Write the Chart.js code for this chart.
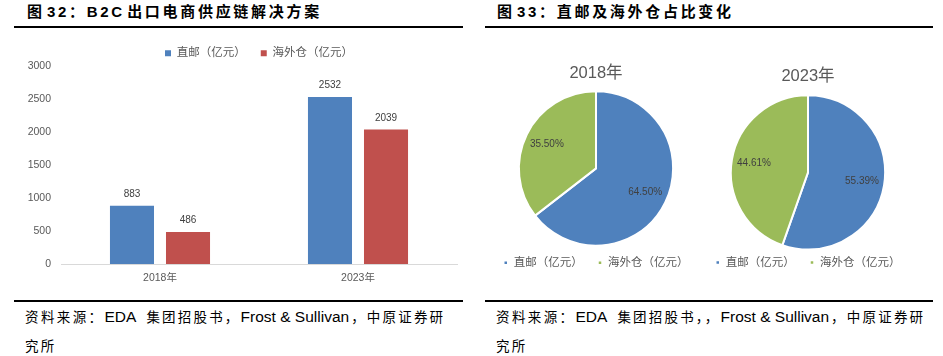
<!DOCTYPE html>
<html><head><meta charset="utf-8">
<script src="https://cdn.jsdelivr.net/npm/chart.js@4.4.0/dist/chart.umd.min.js"></script>
<style>
html,body{margin:0;padding:0;background:#fff;width:943px;height:356px;overflow:hidden;}
body{position:relative;font-family:"Liberation Sans","Noto Sans CJK SC",sans-serif;}
.title{position:absolute;top:3px;font-family:"Liberation Sans","Noto Sans CJK SC",sans-serif;font-weight:bold;font-size:15px;color:#000;white-space:nowrap;letter-spacing:2.7px;word-spacing:-4.6px;line-height:18px;}
.rule{position:absolute;height:2px;background:#000;}
.src{position:absolute;top:302px;font-size:15.5px;line-height:28px;color:#000;white-space:nowrap;}
.cjk{font-family:"Noto Sans CJK SC",sans-serif;font-size:13.5px;letter-spacing:2.2px;}
canvas{position:absolute;}
</style></head>
<body>
<div class="title" style="left:27px;">图 32：B2C 出口电商供应链解决方案</div>
<div class="title" style="left:497px;">图 33：直邮及海外仓占比变化</div>
<div class="rule" style="left:14px;width:449px;top:26px;"></div>
<div class="rule" style="left:485px;width:448px;top:26px;"></div>
<div class="rule" style="left:14px;width:449px;top:300px;"></div>
<div class="rule" style="left:485px;width:448px;top:300px;"></div>
<div class="src" style="left:25px;"><span class="cjk" style="letter-spacing:2.4px;">资料来源：</span>EDA<span class="cjk" style="margin-left:10px;">集团招股书，</span>Frost &amp; Sullivan<span class="cjk" style="margin-left:2px;">，中原证券研</span><br><span class="cjk">究所</span></div>
<div class="src" style="left:496px;"><span class="cjk" style="letter-spacing:2.4px;">资料来源：</span>EDA<span class="cjk" style="margin-left:10px;">集团招股书，，</span>Frost &amp; Sullivan<span class="cjk" style="margin-left:2px;">，中原证券研</span><br><span class="cjk">究所</span></div>

<canvas id="bar" width="470" height="254" style="left:0;top:38px;"></canvas>
<canvas id="pie1" width="232" height="228" style="left:480px;top:55px;"></canvas>
<canvas id="pie2" width="232" height="232" style="left:692px;top:55px;"></canvas>

<script>
// ---- data ----
const categories = ['2018年', '2023年'];
const seriesNames = ['直邮（亿元）', '海外仓（亿元）'];
const directMail = [883, 2532];
const overseasWarehouse = [486, 2039];
const yMin = 0, yMax = 3000, yStep = 500;
const pieTitles = ['2018年', '2023年'];
const share2018 = [64.50, 35.50];
const share2023 = [55.39, 44.61];

// ---- styles ----
const BLUE = '#4F81BD', RED = '#C0504D', GREEN = '#9BBB59';
const FONT = '"Liberation Sans", "Noto Sans CJK SC", sans-serif';
Chart.defaults.font.family = FONT;
Chart.defaults.color = '#595959';

const barValueLabels = {
  id: 'barValueLabels',
  afterDatasetsDraw(chart) {
    const ctx = chart.ctx;
    ctx.save();
    ctx.font = '10px ' + FONT;
    ctx.fillStyle = '#404040';
    ctx.textAlign = 'center';
    ctx.textBaseline = 'middle';
    chart.data.datasets.forEach((ds, i) => {
      chart.getDatasetMeta(i).data.forEach((bar, j) => {
        ctx.fillText(String(ds.data[j]), bar.x, bar.y - 11.5);
      });
    });
    ctx.restore();
  }
};

// nudges the legend box vertically after layout (chart area unchanged)
function legendShift(dy) {
  return {
    id: 'legendShift',
    afterLayout(chart) {
      const lg = chart.legend;
      if (lg) { lg.top += dy; lg.bottom += dy; }
    }
  };
}

new Chart(document.getElementById('bar'), {
  type: 'bar',
  data: {
    labels: categories,
    datasets: [
      { label: seriesNames[0], data: directMail, backgroundColor: BLUE },
      { label: seriesNames[1], data: overseasWarehouse, backgroundColor: RED }
    ]
  },
  options: {
    responsive: false,
    animation: false,
    events: [],
    layout: { padding: { left: 0, right: 13, top: -8.5, bottom: 0 } },
    datasets: { bar: { categoryPercentage: 0.566, barPercentage: 0.786 } },
    scales: {
      x: {
        grid: { display: false, drawTicks: false },
        border: { display: true, color: '#D9D9D9', width: 1 },
        ticks: { color: '#595959', font: { size: 10.5 }, padding: 8 },
        afterFit(s) { s.height = 28; }
      },
      y: {
        min: yMin, max: yMax,
        grid: { display: false, drawTicks: false },
        border: { display: false },
        ticks: { stepSize: yStep, color: '#595959', font: { size: 10.5 }, padding: 10, callback: (v) => String(v) },
        afterFit(s) { s.width = 61; }
      }
    },
    plugins: {
      legend: {
        position: 'top',
        fullSize: false,
        labels: { boxWidth: 6, boxHeight: 6, font: { size: 11.5 }, color: '#595959', padding: 15 }
      },
      tooltip: { enabled: false }
    }
  },
  plugins: [barValueLabels, legendShift(3)]
});

function sliceLabels(shares) {
  return {
    id: 'sliceLabels',
    afterDatasetsDraw(chart) {
      const ctx = chart.ctx;
      ctx.save();
      ctx.font = '10px ' + FONT;
      ctx.fillStyle = '#404040';
      ctx.textAlign = 'center';
      ctx.textBaseline = 'middle';
      chart.getDatasetMeta(0).data.forEach((arc, i) => {
        const p = arc.getProps(['x', 'y', 'startAngle', 'endAngle', 'outerRadius'], true);
        const mid = (p.startAngle + p.endAngle) / 2;
        const r = p.outerRadius * 0.71;
        ctx.fillText(shares[i].toFixed(2) + '%', p.x + Math.cos(mid) * r, p.y + Math.sin(mid) * r);
      });
      ctx.restore();
    }
  };
}

function makePie(id, title, shares, tpad, legendPad, dy) {
  new Chart(document.getElementById(id), {
    type: 'pie',
    data: {
      labels: seriesNames,
      datasets: [{ data: shares, backgroundColor: [BLUE, GREEN], borderColor: '#FFFFFF', borderWidth: 2 }]
    },
    options: {
      responsive: false,
      animation: false,
      events: [],
      layout: { padding: 0 },
      plugins: {
        title: { display: true, text: title, color: '#595959', font: { size: 16.5, weight: 'normal' }, padding: tpad },
        legend: {
          position: 'bottom',
          labels: { boxWidth: 4.5, boxHeight: 4.5, font: { size: 11.5 }, color: '#595959', padding: legendPad }
        },
        tooltip: { enabled: false }
      }
    },
    plugins: [sliceLabels(shares), legendShift(dy)]
  });
}

makePie('pie1', pieTitles[0], share2018, { top: 8.1, bottom: 7.4 }, 15, -4.5);
makePie('pie2', pieTitles[1], share2023, { top: 11.8, bottom: 7.6 }, 15, -8.8);
</script>
</body></html>
